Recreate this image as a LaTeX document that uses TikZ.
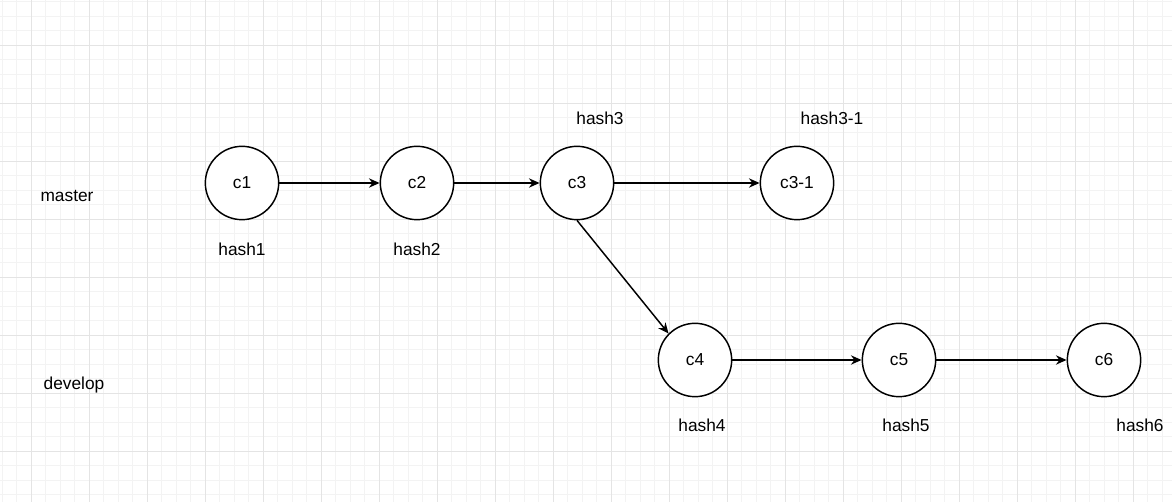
\documentclass[tikz,border=0pt]{standalone}
\usepackage{fontspec}
\setmainfont{Liberation Sans}
\usepackage{tikz}
\usetikzlibrary{arrows.meta, positioning}
\definecolor{gridmajor}{RGB}{228,228,228}
\definecolor{gridminor}{RGB}{243,243,243}

\begin{document}
\begin{tikzpicture}[x=0.75pt, y=-0.75pt, font=\fontsize{13}{15}\selectfont,
  commit/.style={draw, circle, line width=1.1pt, minimum size=55pt, inner sep=0pt, fill=white},
  link/.style={-{Stealth[length=8pt,width=7pt]}, line width=1.1pt},
  tag/.style={inner sep=1pt}]

  % Canvas and grid
  \fill[white] (0,0) rectangle (1172,502);
  \useasboundingbox (0,0) rectangle (1172,502);
  \foreach \i in {-2,...,78}{
    \draw[gridminor, line width=0.6pt] ({31+14.5*\i},0) -- ++(0,502);
  }
  \foreach \i in {-3,...,31}{
    \draw[gridminor, line width=0.6pt] (0,{45+14.5*\i}) -- ++(1172,0);
  }
  \foreach \i in {0,...,19}{
    \draw[gridmajor, line width=0.7pt] ({31+58*\i},0) -- ++(0,502);
  }
  \foreach \i in {0,...,7}{
    \draw[gridmajor, line width=0.7pt] (0,{45+58*\i}) -- ++(1172,0);
  }

  % Branch names
  \node[tag] (master) at (67,196) {master};
  \node[tag] (develop) at (74,385) {develop};

  % Commits on master
  \node[commit] (c1) at (242,183) {c1};
  \node[commit] (c2) at (417,183) {c2};
  \node[commit] (c3) at (577,183) {c3};
  \node[commit] (c31) at (797,183) {c3-1};
  % Commits on develop
  \node[commit] (c4) at (695,360) {c4};
  \node[commit] (c5) at (899,360) {c5};
  \node[commit] (c6) at (1104,360) {c6};

  % Hashes
  \node[tag] (h1) at (242,249) {hash1};
  \node[tag] (h2) at (417,249) {hash2};
  \node[tag] (h3) at (600,118) {hash3};
  \node[tag] (h31) at (832,118) {hash3-1};
  \node[tag] (h4) at (702,425) {hash4};
  \node[tag] (h5) at (906,425) {hash5};
  \node[tag] (h6) at (1140,425) {hash6};

  % History
  \draw[link] (c1) -- (c2);
  \draw[link] (c2) -- (c3);
  \draw[link] (c3) -- (c31);
  \draw[link] (c3.south) -- (c4.north west);
  \draw[link] (c4) -- (c5);
  \draw[link] (c5) -- (c6);

\end{tikzpicture}
\end{document}
